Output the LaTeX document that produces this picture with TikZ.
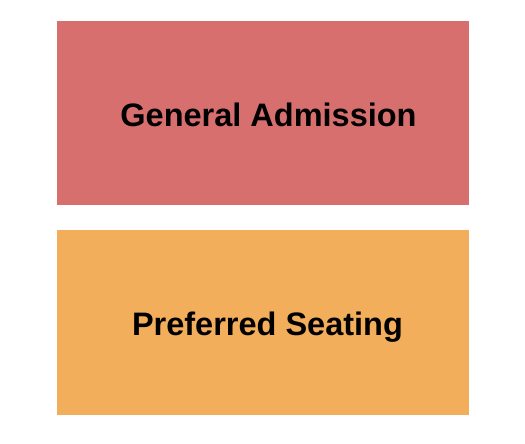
\documentclass[tikz,border=0pt]{standalone}
\usepackage{fontspec}
\setmainfont{Liberation Sans}
\definecolor{ga}{HTML}{D76F6E}
\definecolor{ps}{HTML}{F3AE5C}
\tikzset{
  section/.style={anchor=north west,inner sep=0pt,outer sep=0pt,minimum width=412pt},
  sectlabel/.style={anchor=base,inner sep=0pt,font=\bfseries\fontsize{32.5}{36}\selectfont,text=black}}
\begin{document}
\begin{tikzpicture}[x=1pt,y=-1pt]
\useasboundingbox (0,0) rectangle (525,444);
\fill[white] (0,0) rectangle (525,444);
\node[section,fill=ga,minimum height=184pt] (ga) at (57,21) {};
\node[section,fill=ps,minimum height=185pt] (ps) at (57,230) {};
\node[sectlabel] (gat) at (268.5,126) {General Admission};
\node[sectlabel] (pst) at (267.5,335) {Preferred Seating};
\end{tikzpicture}
\end{document}
